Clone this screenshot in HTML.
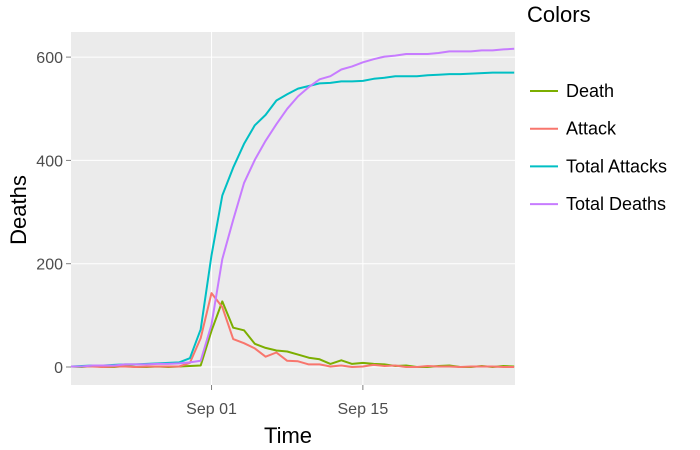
<!DOCTYPE html>
<html><head><meta charset="utf-8"><style>
body{margin:0;background:#fff;}
svg{display:block;font-family:"Liberation Sans",sans-serif;}
</style></head><body>
<svg id="chart" width="700" height="450">
<rect x="71" y="32" width="444" height="353" fill="#ebebeb"/>
<g id="grid"></g><g id="series"></g><g id="axes"></g>
<text x="288" y="443" font-size="22" text-anchor="middle" fill="#000">Time</text>
<text transform="translate(26,210) rotate(-90)" font-size="22" text-anchor="middle" fill="#000">Deaths</text>
<g>
<text x="527" y="22" font-size="22" fill="#000">Colors</text>
<g id="legend"></g>
</g>
</svg>
<script>
const dates=["1854-08-19","1854-08-20","1854-08-21","1854-08-22","1854-08-23","1854-08-24","1854-08-25","1854-08-26","1854-08-27","1854-08-28","1854-08-29","1854-08-30","1854-08-31","1854-09-01","1854-09-02","1854-09-03","1854-09-04","1854-09-05","1854-09-06","1854-09-07","1854-09-08","1854-09-09","1854-09-10","1854-09-11","1854-09-12","1854-09-13","1854-09-14","1854-09-15","1854-09-16","1854-09-17","1854-09-18","1854-09-19","1854-09-20","1854-09-21","1854-09-22","1854-09-23","1854-09-24","1854-09-25","1854-09-26","1854-09-27","1854-09-28","1854-09-29"];
const attacks=[1,1,1,0,1,1,0,1,1,1,1,8,56,143,116,54,46,36,20,28,12,11,5,5,1,3,0,1,4,2,3,0,0,2,1,1,0,1,1,1,0,0];
const deaths=[1,0,2,0,0,2,0,0,1,0,1,2,3,70,127,76,71,45,37,32,30,24,18,15,6,13,6,8,6,5,2,3,0,0,2,3,0,0,2,0,2,1];
const yTicks=[0,200,400,600];
const xTickDates=["1854-09-01","1854-09-15"];
const xTickLabels=["Sep 01","Sep 15"];
const seriesNames=["Death","Attack","Total Attacks","Total Deaths"];
const seriesColors=["#7CAE00","#F8766D","#00BFC4","#C77CFF"];

const NS="http://www.w3.org/2000/svg";
const day=d=>Date.parse(d)/864e5;
const d0=day(dates[0]);
const X=d=>71+(day(d)-d0)*10.81;
const Y=v=>367-v*0.5165;
function mk(tag,attrs,parent){const e=document.createElementNS(NS,tag);for(const k in attrs)e.setAttribute(k,attrs[k]);parent.appendChild(e);return e;}
const grid=document.getElementById('grid'),axes=document.getElementById('axes'),ser=document.getElementById('series'),leg=document.getElementById('legend');
yTicks.forEach(v=>{
  const l=mk('line',{x1:71,x2:515,y1:Y(v),y2:Y(v),stroke:'#fff','stroke-width':1},grid);
  
  
  const t=mk('line',{x1:66,x2:71,y1:Y(v),y2:Y(v),stroke:'#7f7f7f'},axes);
  
  
  const tx=mk('text',{x:63,y:Y(v)+6,'font-size':16,'text-anchor':'end',fill:'#4d4d4d'},axes);
  tx.textContent=v;
  
  
});
xTickDates.forEach((d,i)=>{
  const l=mk('line',{x1:X(d),x2:X(d),y1:32,y2:385,stroke:'#fff','stroke-width':1},grid);
  
  
  const t=mk('line',{x1:X(d),x2:X(d),y1:385,y2:390,stroke:'#7f7f7f'},axes);
  
  
  const tx=mk('text',{x:X(d),y:414,'font-size':16,'text-anchor':'middle',fill:'#4d4d4d'},axes);
  tx.textContent=xTickLabels[i];
  
  
});
const cum=a=>{let s=0;return a.map(v=>s+=v);};
const values=[deaths,attacks,cum(attacks),cum(deaths)];
const order=[0,1,2,3];
order.forEach(i=>{
  const pts=dates.map((d,j)=>X(d).toFixed(1)+','+Y(values[i][j]).toFixed(1)).join(' ');
  const p=mk('polyline',{points:pts,fill:'none',stroke:seriesColors[i],'stroke-width':2,'stroke-linejoin':'round'},ser);
  
  
});
seriesNames.forEach((n,i)=>{
  const y=91+i*37.7;
  const g=mk('g',{},leg);
  
  
  mk('line',{x1:530,x2:558,y1:y,y2:y,stroke:seriesColors[i],'stroke-width':2},g);
  const t=mk('text',{x:566,y:y+6,'font-size':18,fill:'#000'},g);
  t.textContent=n;
});
</script>
</body></html>
